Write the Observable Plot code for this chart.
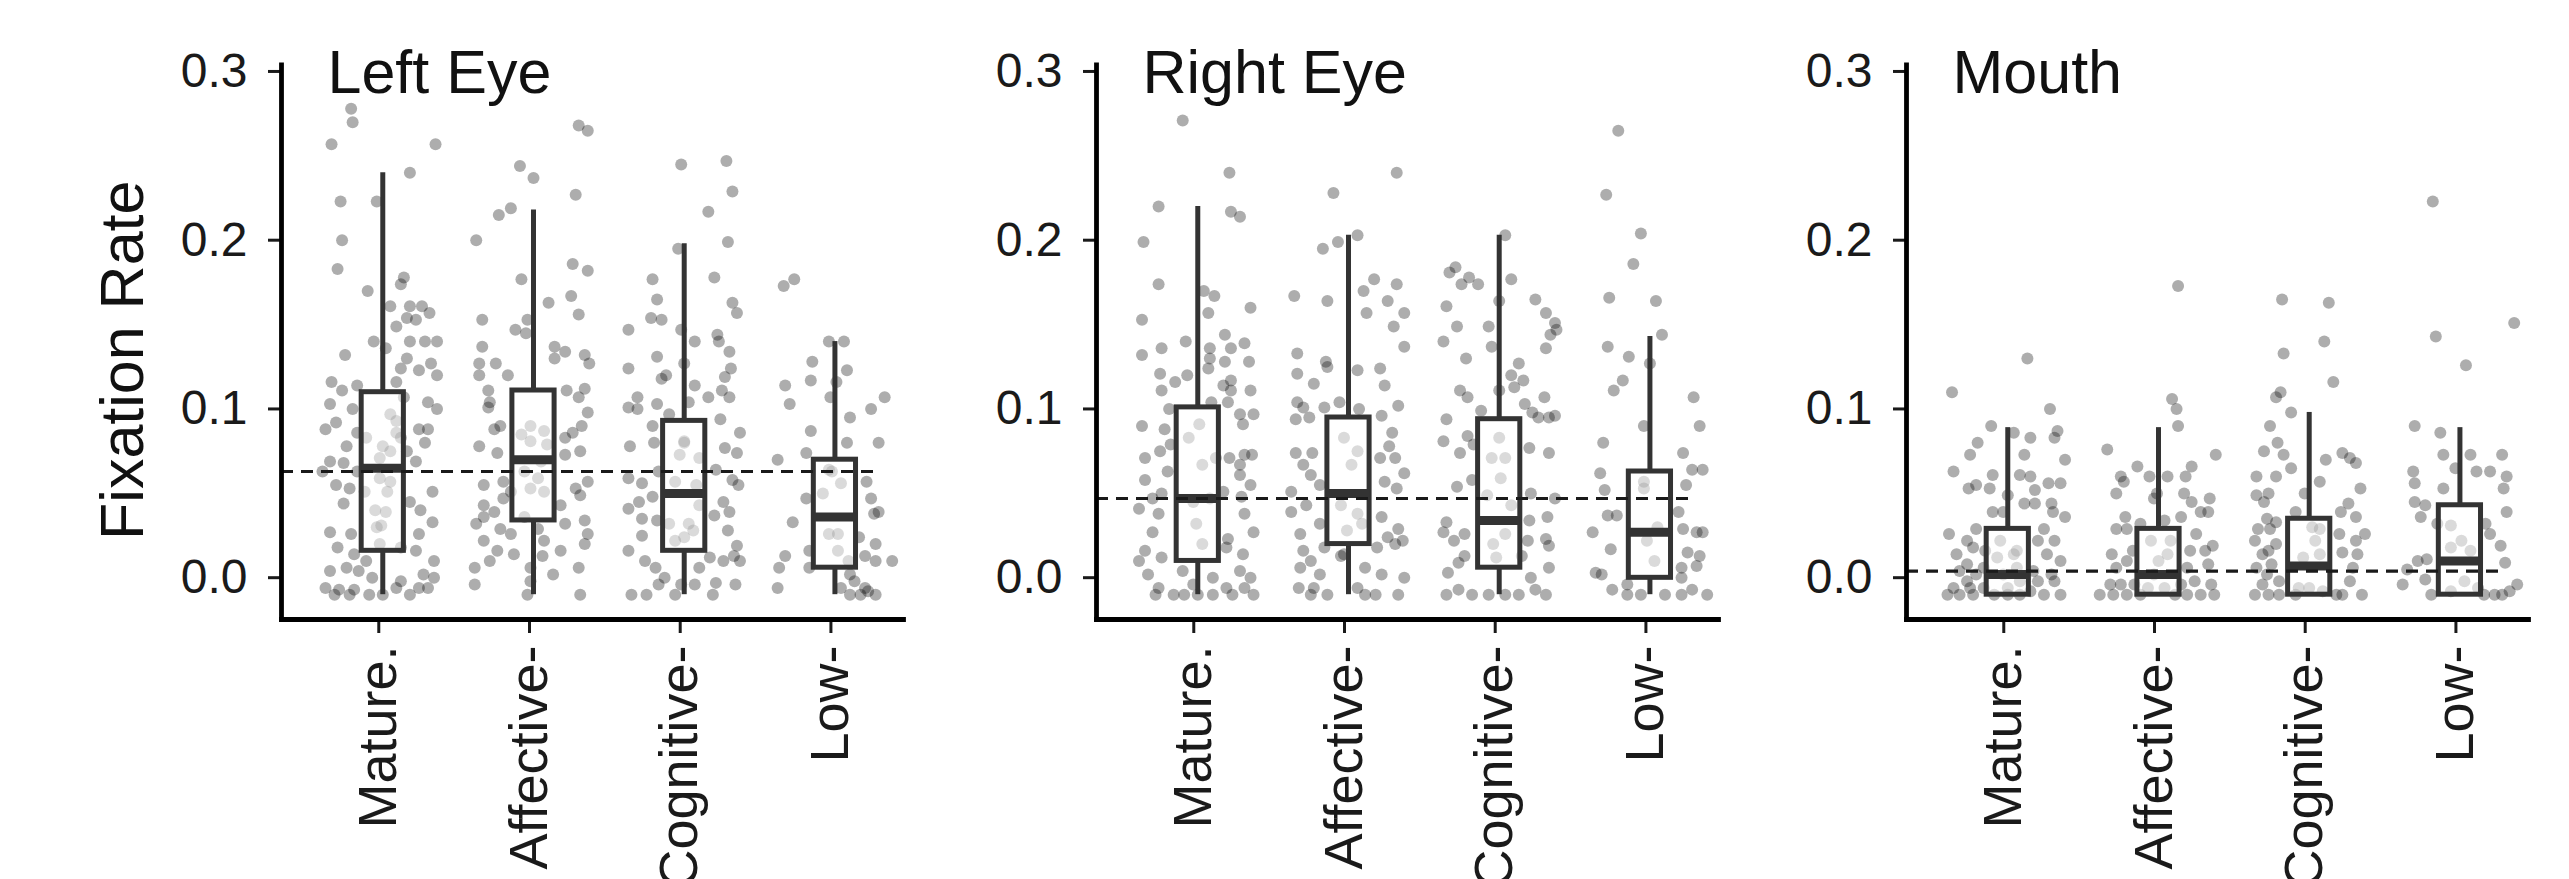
<!DOCTYPE html>
<html><head><meta charset="utf-8">
<script src="https://cdn.jsdelivr.net/npm/d3@7"></script>
<script src="https://cdn.jsdelivr.net/npm/@observablehq/plot@0.6"></script>
<style>
body{margin:0;background:#fff;}
#wrap{position:relative;width:2569px;height:879px;overflow:hidden;background:#fff;}
#wrap svg{position:absolute;top:0;overflow:visible;}
</style></head><body><div id="wrap"></div>
<script>
const regions = ["Left Eye", "Right Eye", "Mouth"];
const categories = ["Mature.", "Affective-", "Cognitive-", "Low-"];
const yTicks = [0, 0.1, 0.2, 0.3];
const yLabel = "Fixation Rate";
const overallMedian = [0.073, 0.057, 0.014];

// box stats per category: [whiskerLow, q1, median, q3, whiskerHigh]
const boxLeftEye  = [[0,0.026,0.075,0.120,0.250],[0,0.044,0.080,0.121,0.228],[0,0.026,0.060,0.103,0.208],[0,0.016,0.046,0.080,0.150]];
const boxRightEye = [[0,0.020,0.057,0.111,0.230],[0,0.030,0.060,0.105,0.213],[0,0.016,0.044,0.104,0.213],[0,0.010,0.037,0.073,0.153]];
const boxMouth    = [[0,0,0.012,0.039,0.099],[0,0,0.012,0.039,0.099],[0,0,0.017,0.045,0.108],[0,0,0.020,0.053,0.099]];

// observations: [jitter (fraction of category step), fixation rate]
const leMature = [[-0.21,.288],[-0.20,.280],[-0.34,.267],[0.35,.267],[0.18,.250],[-0.04,.233],[-0.28,.233],[-0.27,.210],[-0.30,.193],[-0.10,.180],[0.14,.188],[0.12,.184],[0.05,.171],[0.18,.171],[0.26,.171],[0.31,.167],[0.16,.164],[0.22,.163],[0.09,.159],[-0.06,.150],[0.02,.146],[0.18,.150],[0.28,.150],[0.36,.150],[-0.25,.142],[0.16,.140],[0.32,.137],[0.12,.134],[0.24,.133],[0.36,.130],[-0.34,.126],[-0.17,.124],[0.09,.126],[-0.27,.121],[-0.35,.113],[-0.20,.110],[0.30,.114],[0.36,.110],[-0.31,.102],[-0.38,.098],[-0.17,.096],[0.24,.098],[0.30,.098],[0.09,.096],[-0.24,.088],[0.00,.088],[0.16,.085],[0.28,.090],[-0.35,.079],[-0.26,.078],[-0.02,.081],[0.05,.085],[0.22,.079],[-0.17,.073],[-0.31,.065],[-0.22,.063],[-0.12,.061],[0.05,.067],[0.33,.061],[-0.26,.054],[0.18,.055],[0.25,.050],[-0.05,.050],[0.02,.049],[0.33,.043],[-0.35,.037],[-0.21,.036],[-0.01,.041],[0.24,.036],[-0.30,.028],[-0.19,.024],[-0.11,.020],[0.22,.026],[0.12,.028],[-0.35,.014],[-0.24,.016],[-0.16,.014],[0.34,.020],[-0.07,.010],[0.12,.008],[0.27,.012],[-0.38,.004],[-0.29,.003],[-0.19,.003],[0.09,.004],[0.24,.004],[0.34,.010],[-0.32,0],[-0.22,0],[-0.09,0],[0.00,0],[0.18,0],[0.30,.004],[-0.02,.030],[0.03,.061],[-0.04,.040],[0.05,.107],[0.09,.103],[-0.11,.093],[-0.02,.069],[0.12,.093],[0.14,.117],[-0.40,.073]];
const leAffective = [[0.30,.278],[0.36,.275],[-0.09,.254],[0.00,.247],[0.28,.237],[-0.15,.229],[-0.23,.225],[-0.38,.210],[0.26,.196],[0.36,.192],[-0.08,.187],[0.25,.177],[0.10,.173],[0.30,.166],[-0.34,.163],[-0.04,.163],[-0.12,.157],[-0.05,.155],[0.14,.147],[0.21,.144],[0.34,.142],[-0.34,.147],[0.14,.140],[0.37,.137],[-0.25,.137],[-0.36,.137],[-0.17,.130],[-0.36,.130],[0.34,.122],[0.22,.121],[-0.30,.121],[-0.29,.114],[0.30,.117],[0.36,.108],[-0.30,.111],[-0.26,.098],[-0.22,.100],[-0.02,.100],[0.07,.097],[0.32,.100],[0.26,.096],[-0.36,.088],[-0.24,.084],[0.21,.093],[0.31,.085],[0.21,.083],[-0.20,.067],[-0.33,.065],[-0.15,.061],[-0.02,.063],[0.07,.061],[0.28,.063],[0.36,.067],[-0.33,.053],[-0.26,.049],[0.18,.053],[0.31,.059],[-0.22,.039],[-0.06,.046],[0.03,.039],[0.21,.042],[0.34,.044],[-0.38,.042],[-0.33,.032],[-0.24,.026],[-0.13,.024],[0.06,.023],[0.18,.026],[0.34,.030],[0.36,.036],[-0.39,.016],[-0.29,.020],[-0.02,.016],[0.13,.012],[0.30,.016],[-0.39,.006],[-0.04,0],[0.31,0],[-0.02,.091],[0.05,.079],[-0.06,.073],[-0.08,.095],[0.03,.069],[0.09,.089],[-0.02,.008],[0.07,.032],[-0.33,.046],[-0.20,.057],[-0.15,.036]];
const leCognitive = [[-0.02,.255],[0.28,.257],[0.32,.239],[0.16,.227],[-0.04,.205],[0.29,.209],[-0.21,.187],[0.20,.188],[-0.18,.175],[0.32,.173],[0.35,.167],[-0.22,.164],[-0.15,.163],[-0.37,.157],[-0.02,.157],[0.07,.150],[0.22,.154],[0.23,.150],[0.30,.144],[-0.18,.141],[-0.37,.134],[0.00,.137],[0.31,.134],[-0.15,.128],[-0.12,.130],[0.27,.129],[0.07,.124],[-0.31,.117],[0.16,.117],[0.30,.117],[0.25,.121],[-0.37,.111],[-0.18,.113],[0.03,.114],[-0.10,.107],[-0.31,.110],[-0.21,.100],[0.24,.104],[0.37,.096],[-0.20,.090],[-0.36,.088],[0.00,.090],[0.27,.087],[0.35,.084],[0.10,.081],[-0.17,.073],[-0.37,.069],[-0.28,.066],[0.21,.074],[0.32,.068],[0.36,.065],[-0.30,.055],[-0.21,.058],[0.26,.055],[-0.37,.051],[-0.28,.045],[-0.18,.044],[0.20,.047],[0.30,.049],[0.00,.034],[-0.06,.032],[0.06,.038],[-0.28,.035],[0.29,.038],[0.35,.029],[-0.37,.026],[-0.26,.020],[-0.19,.016],[-0.13,.010],[0.10,.016],[0.17,.022],[0.26,.020],[0.33,.023],[0.37,.020],[0.07,.006],[-0.17,.006],[-0.02,.006],[0.21,.007],[0.34,.006],[-0.35,0],[-0.25,0],[-0.06,0],[0.19,0],[0.00,.091],[0.10,.053],[0.03,.042],[-0.06,.067],[-0.10,.042],[0.08,.065],[-0.03,.083]];
const leLow = [[-0.34,.183],[-0.27,.187],[-0.04,.150],[0.06,.150],[-0.15,.138],[0.08,.133],[-0.16,.127],[-0.33,.124],[0.01,.126],[-0.30,.113],[-0.03,.117],[0.33,.117],[0.24,.110],[0.10,.105],[-0.16,.097],[0.29,.090],[0.08,.090],[-0.38,.080],[-0.19,.084],[-0.04,.074],[0.04,.066],[0.21,.067],[0.24,.057],[0.26,.048],[0.29,.049],[-0.19,.057],[-0.08,.060],[-0.28,.043],[0.02,.036],[0.16,.034],[0.27,.030],[0.02,.026],[-0.33,.023],[-0.17,.026],[0.20,.023],[0.27,.020],[0.38,.020],[-0.37,.016],[-0.17,.016],[0.09,.020],[0.10,.012],[0.13,.008],[0.04,.004],[0.20,.004],[-0.38,.004],[0.10,0],[0.17,0],[0.27,0],[0.22,.002],[-0.04,.036],[-0.02,.073]];

const reMature = [[-0.10,.281],[0.21,.250],[-0.26,.230],[0.22,.227],[0.28,.224],[-0.36,.209],[-0.26,.184],[0.04,.180],[0.11,.177],[0.07,.167],[0.35,.170],[-0.37,.163],[-0.08,.150],[-0.24,.146],[0.18,.154],[0.08,.146],[0.22,.146],[0.31,.149],[-0.37,.142],[0.08,.140],[0.18,.138],[0.34,.138],[-0.25,.131],[-0.07,.130],[0.07,.134],[-0.15,.126],[0.17,.124],[0.22,.127],[-0.24,.121],[0.35,.121],[0.22,.121],[0.09,.114],[-0.19,.110],[0.20,.114],[0.37,.107],[0.28,.107],[-0.37,.100],[-0.22,.098],[0.30,.101],[-0.18,.089],[-0.25,.085],[0.31,.083],[0.36,.083],[-0.35,.081],[0.21,.081],[0.28,.077],[-0.20,.073],[-0.35,.068],[0.35,.065],[0.28,.071],[-0.30,.057],[-0.24,.060],[0.17,.061],[0.29,.058],[-0.39,.051],[-0.26,.048],[0.31,.048],[-0.30,.037],[0.20,.033],[0.37,.037],[-0.35,.026],[-0.24,.022],[0.19,.028],[0.30,.024],[-0.39,.020],[-0.10,.014],[-0.33,.012],[0.10,.010],[0.28,.014],[0.35,.010],[-0.26,.004],[0.19,.004],[0.31,.004],[-0.28,0],[-0.16,0],[-0.09,0],[0.00,0],[0.10,0],[0.23,0],[0.37,0],[-0.03,.006],[0.03,.030],[-0.01,.042],[-0.06,.093],[0.03,.077],[-0.03,.055],[0.08,.057],[0.01,.101],[0.12,.081]];
const reAffective = [[-0.10,.238],[0.32,.250],[0.06,.213],[-0.07,.209],[-0.17,.205],[-0.36,.177],[-0.14,.174],[0.17,.187],[0.32,.184],[0.10,.180],[0.26,.174],[0.12,.167],[0.37,.167],[0.30,.159],[0.37,.147],[-0.34,.143],[-0.15,.138],[-0.14,.135],[0.06,.133],[0.21,.134],[0.24,.124],[-0.23,.125],[-0.34,.131],[-0.34,.114],[-0.30,.111],[-0.26,.105],[-0.16,.111],[-0.06,.114],[0.07,.110],[0.22,.106],[0.33,.112],[-0.35,.104],[0.29,.096],[0.27,.088],[-0.35,.084],[-0.24,.084],[0.31,.081],[0.21,.081],[-0.30,.077],[-0.25,.071],[0.37,.072],[0.24,.067],[0.32,.063],[-0.38,.061],[-0.19,.065],[-0.28,.053],[-0.38,.049],[-0.19,.042],[0.22,.046],[0.33,.039],[0.36,.032],[0.26,.034],[-0.32,.036],[-0.30,.026],[-0.16,.028],[-0.05,.023],[-0.25,.020],[0.19,.028],[0.31,.030],[-0.32,.016],[-0.19,.012],[0.11,.016],[0.22,.012],[0.37,.010],[-0.33,.004],[-0.23,.004],[0.06,.004],[-0.25,0],[-0.14,0],[0.11,0],[0.18,0],[0.33,0],[-0.03,.093],[0.02,.077],[0.06,.085],[-0.05,.053],[0.06,.048],[-0.01,.038],[-0.03,.024],[0.09,.042]];
const reCognitive = [[0.04,.213],[-0.33,.191],[-0.29,.194],[-0.20,.188],[-0.14,.184],[-0.25,.184],[0.08,.187],[-0.35,.171],[0.00,.174],[0.24,.175],[0.31,.167],[0.37,.161],[0.38,.157],[0.34,.154],[-0.28,.159],[-0.07,.159],[-0.37,.150],[-0.05,.147],[0.31,.146],[-0.22,.140],[0.13,.137],[0.08,.130],[0.16,.127],[-0.26,.121],[-0.21,.117],[0.00,.121],[0.10,.123],[0.30,.117],[0.17,.113],[-0.12,.109],[0.22,.108],[0.26,.105],[0.33,.105],[0.37,.106],[-0.35,.104],[-0.21,.094],[-0.37,.091],[-0.26,.084],[-0.17,.089],[0.20,.087],[0.33,.084],[-0.18,.068],[-0.28,.064],[0.21,.060],[0.37,.057],[-0.35,.043],[-0.37,.037],[-0.30,.032],[-0.23,.036],[0.20,.044],[0.32,.046],[0.31,.033],[0.33,.029],[0.19,.032],[-0.34,.013],[-0.27,.019],[-0.23,.023],[0.21,.010],[0.33,.016],[-0.27,.003],[-0.35,0],[-0.18,0],[-0.07,0],[0.04,0],[0.13,0],[0.24,.003],[0.31,0],[0.15,.023],[0.00,.093],[-0.05,.081],[0.04,.081],[0.01,.069],[-0.04,.030],[0.04,.036],[-0.02,.022],[0.08,.053],[-0.08,.059]];
const reLow = [[-0.21,.275],[-0.29,.237],[-0.06,.214],[-0.11,.196],[-0.27,.176],[0.04,.174],[0.08,.154],[-0.28,.147],[-0.14,.141],[0.00,.137],[-0.18,.127],[-0.24,.121],[0.29,.117],[-0.04,.100],[0.33,.100],[-0.31,.090],[0.22,.084],[-0.33,.072],[0.28,.074],[0.35,.074],[-0.30,.062],[0.24,.065],[0.19,.049],[-0.38,.037],[-0.28,.047],[-0.22,.047],[0.22,.039],[0.31,.037],[0.35,.037],[-0.26,.027],[0.25,.025],[0.33,.023],[0.21,.016],[0.31,.017],[-0.36,.013],[-0.32,.012],[0.21,.010],[-0.15,.006],[-0.25,.003],[-0.15,0],[-0.06,0],[0.10,0],[0.21,0],[0.28,.003],[0.38,0],[-0.04,.063],[0.03,.020],[-0.02,.032],[0.05,.040],[-0.04,.067]];

const moMature = [[0.13,.140],[-0.37,.120],[0.28,.110],[-0.11,.100],[0.04,.096],[0.33,.097],[0.31,.093],[0.15,.093],[-0.20,.090],[-0.25,.083],[0.11,.083],[0.38,.080],[-0.36,.073],[-0.10,.071],[0.08,.071],[0.15,.070],[-0.26,.063],[-0.21,.065],[-0.12,.063],[0.18,.062],[0.27,.066],[0.35,.066],[0.00,.059],[-0.10,.049],[0.11,.054],[0.18,.054],[0.29,.054],[0.30,.049],[0.38,.046],[-0.03,.049],[-0.21,.039],[-0.39,.036],[-0.27,.032],[-0.23,.028],[0.24,.039],[0.31,.032],[0.20,.032],[-0.34,.024],[-0.15,.026],[0.06,.026],[0.26,.024],[0.35,.020],[-0.27,.018],[-0.32,.014],[-0.21,.012],[0.17,.014],[0.29,.012],[-0.36,.004],[-0.27,.008],[-0.16,.004],[0.20,.008],[0.31,.008],[-0.40,0],[-0.32,0],[-0.23,0],[-0.09,0],[0.00,0],[0.08,0],[0.24,0],[0.35,0],[-0.05,.032],[0.04,.024],[-0.03,.012],[0.06,.016],[0.00,.004],[0.08,.008],[-0.07,.022],[-0.16,.016],[-0.25,.004],[0.15,.002]];
const moAffective = [[0.13,.183],[0.09,.116],[0.12,.110],[0.13,.100],[-0.34,.086],[0.38,.083],[0.22,.076],[-0.14,.076],[0.18,.070],[-0.25,.070],[-0.06,.070],[0.06,.070],[-0.23,.067],[-0.28,.060],[0.17,.060],[0.22,.055],[0.34,.057],[0.28,.049],[0.33,.049],[-0.03,.057],[-0.01,.060],[-0.22,.046],[-0.28,.039],[-0.21,.039],[0.04,.044],[0.15,.046],[0.25,.036],[0.36,.029],[0.21,.026],[0.31,.026],[-0.31,.024],[-0.17,.026],[-0.28,.016],[-0.21,.020],[0.19,.016],[0.33,.018],[-0.32,.006],[-0.25,.006],[-0.16,.006],[0.15,.006],[0.24,.008],[0.35,.006],[-0.39,0],[-0.30,0],[-0.21,0],[-0.12,0],[0.11,0],[0.19,0],[0.28,0],[0.37,0],[-0.05,.032],[0.06,.024],[-0.03,.012],[0.04,.004],[-0.07,.004],[0.00,.020],[0.08,.032],[-0.12,.042]];
const moCognitive = [[-0.18,.175],[0.13,.173],[0.10,.150],[-0.17,.143],[0.16,.126],[-0.19,.120],[-0.22,.117],[-0.12,.108],[-0.26,.100],[-0.21,.090],[-0.30,.085],[-0.17,.083],[-0.12,.075],[0.22,.084],[0.27,.081],[0.31,.078],[0.11,.080],[-0.22,.070],[-0.35,.070],[0.34,.063],[0.07,.067],[-0.03,.060],[-0.27,.060],[-0.35,.059],[-0.30,.055],[0.26,.054],[0.21,.049],[0.31,.046],[-0.28,.045],[-0.22,.043],[-0.09,.049],[-0.34,.039],[-0.26,.039],[0.07,.039],[0.20,.036],[0.37,.036],[-0.36,.032],[0.31,.032],[-0.27,.026],[-0.31,.024],[-0.22,.030],[0.32,.024],[0.22,.025],[-0.35,.016],[0.29,.016],[-0.25,.018],[-0.28,.012],[0.27,.008],[-0.31,.006],[-0.20,.008],[-0.36,0],[-0.27,0],[-0.20,0],[0.22,0],[0.35,0],[0.04,.032],[0.02,.040],[-0.04,.022],[0.07,.024],[-0.07,.004],[0.00,.004],[0.09,.002],[0.18,0],[-0.09,0]];
const moLow = [[-0.18,.233],[-0.16,.153],[0.36,.161],[0.04,.136],[-0.30,.100],[-0.13,.096],[-0.11,.083],[0.07,.083],[0.28,.083],[-0.03,.075],[0.11,.073],[0.20,.073],[-0.31,.073],[-0.30,.066],[0.31,.070],[-0.11,.063],[0.29,.063],[-0.30,.055],[-0.23,.053],[-0.26,.046],[0.31,.049],[-0.15,.042],[0.17,.042],[0.20,.036],[0.27,.029],[0.30,.019],[-0.28,.020],[-0.22,.021],[-0.35,.015],[-0.23,.009],[-0.38,.006],[0.38,.006],[0.33,.002],[-0.19,0],[0.16,0],[0.23,0],[0.28,0],[-0.06,.041],[0.01,.032],[-0.06,.028],[0.07,.026],[0.03,.008],[-0.06,.002],[0.12,.004]];

const pointsByRegion = [
  [leMature, leAffective, leCognitive, leLow],
  [reMature, reAffective, reCognitive, reLow],
  [moMature, moAffective, moCognitive, moLow]
];
const boxesByRegion = [boxLeftEye, boxRightEye, boxMouth];

const wrap = document.getElementById("wrap");
const font = "'Liberation Sans', Arial, Helvetica, sans-serif";
const xDomain = [-0.672, 3.455];
const boxHalf = 0.14;

regions.forEach((region, r) => {
  const pts = [];
  pointsByRegion[r].forEach((grp, i) => grp.forEach(([j, v]) => pts.push({x: i + j, y: v})));
  const boxes = boxesByRegion[r].map(([lo, q1, med, q3, hi], i) => ({i, lo, q1, med, q3, hi}));
  const marks = [
    Plot.dot(pts, {x: "x", y: "y", r: 6, fill: "#000", fillOpacity: 0.32, stroke: null}),
    Plot.ruleX(boxes, {x: "i", y1: "q3", y2: "hi", stroke: "#333", strokeWidth: 5}),
    Plot.ruleX(boxes, {x: "i", y1: "lo", y2: "q1", stroke: "#333", strokeWidth: 5}),
    Plot.rect(boxes, {x1: d => d.i - boxHalf, x2: d => d.i + boxHalf, y1: "q1", y2: "q3", fill: "#fff", fillOpacity: 0.55, stroke: "#333", strokeWidth: 5}),
    Plot.ruleY(boxes, {y: "med", x1: d => d.i - boxHalf, x2: d => d.i + boxHalf, stroke: "#333", strokeWidth: 9}),
    Plot.ruleY([overallMedian[r]], {x1: xDomain[0], x2: 3.27, stroke: "#1a1a1a", strokeWidth: 3.2, strokeDasharray: "12,8"}),
    Plot.axisY({ticks: yTicks, tickFormat: d => d.toFixed(1), tickSize: 13, tickPadding: 21, fontSize: 48, color: "#1a1a1a", strokeWidth: 3, dy: -17, label: null}),
    Plot.axisX({ticks: [0, 1, 2, 3], tickFormat: i => categories[i], tickSize: 14, tickPadding: 12, tickRotate: -90, fontSize: 54, color: "#1a1a1a", strokeWidth: 3, dx: -4, label: null}),
    Plot.frame({anchor: "left", stroke: "#000", strokeWidth: 4.8, strokeLinecap: "square"}),
    Plot.frame({anchor: "bottom", stroke: "#000", strokeWidth: 4.8, strokeLinecap: "square"}),
    Plot.text([region], {frameAnchor: "top-left", dx: 46, dy: 28, lineAnchor: "bottom", textAnchor: "start", fontSize: 61, fill: "#111"})
  ];
  if (r === 0) {
    marks.push(Plot.text([yLabel], {frameAnchor: "left", rotate: -90, dx: -158, dy: 18, textAnchor: "middle", lineAnchor: "middle", fontSize: 61, fill: "#111"}));
  }
  const svg = Plot.plot({
    width: 923, height: 879,
    marginLeft: 281, marginRight: 20, marginTop: 64.5, marginBottom: 260,
    style: {background: "transparent", fontFamily: font, overflow: "visible"},
    x: {type: "linear", domain: xDomain, axis: null},
    y: {domain: [-0.0147, 0.3139], axis: null},
    marks
  });
  const left = [0, 815, 1625][r];
  svg.style.left = left + "px";
  wrap.appendChild(svg);
});
</script></body></html>
